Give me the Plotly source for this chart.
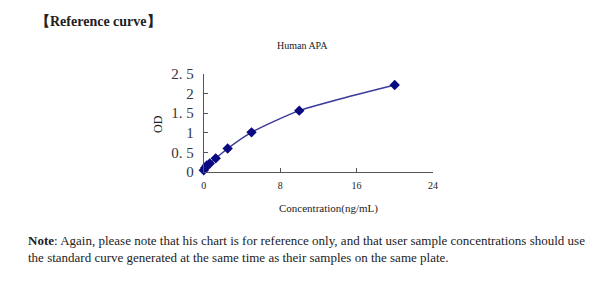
import plotly.graph_objects as go

conc = [0, 0.156, 0.312, 0.625, 1.25, 2.5, 5, 10, 20]
od = [0.05, 0.11, 0.17, 0.22, 0.35, 0.60, 1.01, 1.56, 2.21]
y_tickvals = [0, 0.5, 1, 1.5, 2, 2.5]
y_ticktext = ["0", "0. 5", "1", "1. 5", "2", "2. 5"]
x_tickvals = [0, 8, 16, 24]

W, H = 600, 283
fig = go.Figure()
fig.add_trace(go.Scatter(
    x=conc, y=od, mode="lines+markers",
    line=dict(color="#3a3a9a", width=1.5, shape="spline", smoothing=0.6),
    marker=dict(symbol="diamond", size=8, color="#0a0a80"),
    cliponaxis=False, showlegend=False,
))

x0, x1 = 203.5, 435.7
y0, y1 = 174, 69.5
fig.update_layout(
    width=W, height=H, margin=dict(l=0, r=0, t=0, b=0),
    paper_bgcolor="white", plot_bgcolor="white",
    font=dict(family="Liberation Serif", color="#222"),
    xaxis=dict(domain=[x0 / W, x1 / W], range=[0, 24], tickvals=x_tickvals,
               showline=True, linecolor="#555", linewidth=1, ticks="inside",
               ticklen=4, tickcolor="#555", showgrid=False, zeroline=False,
               tickfont=dict(size=10, color="#222"), ticklabelstandoff=4),
    yaxis=dict(domain=[(H - y0) / H, (H - y1) / H], range=[0, 2.5],
               tickvals=y_tickvals, ticktext=y_ticktext,
               showline=True, linecolor="#555", linewidth=1, ticks="inside",
               ticklen=4, tickcolor="#555", showgrid=False, zeroline=False,
               tickfont=dict(size=15, color="#334"), ticklabelstandoff=6),
)

def ann(text, x, y, size, xanchor="center", yanchor="middle", angle=0, color="#222"):
    fig.add_annotation(text=text, x=x / W, y=1 - y / H, xref="paper", yref="paper",
                       showarrow=False, xanchor=xanchor, yanchor=yanchor,
                       textangle=angle, font=dict(size=size, color=color,
                                                  family="Liberation Serif"))

ann("<b>【Reference curve】</b>", 31, 14, 14, xanchor="left")
ann("Human APA", 304, 40, 10)
ann("OD", 157, 123, 12, angle=-90)
ann("Concentration(ng/mL)", 330, 213, 11)
ann("<b>Note</b>: Again, please note that his chart is for reference only, and that user sample concentrations should use",
    23, 246, 13, xanchor="left")
ann("the standard curve generated at the same time as their samples on the same plate.",
    23, 264, 13, xanchor="left")

fig.write_html("out.html")
